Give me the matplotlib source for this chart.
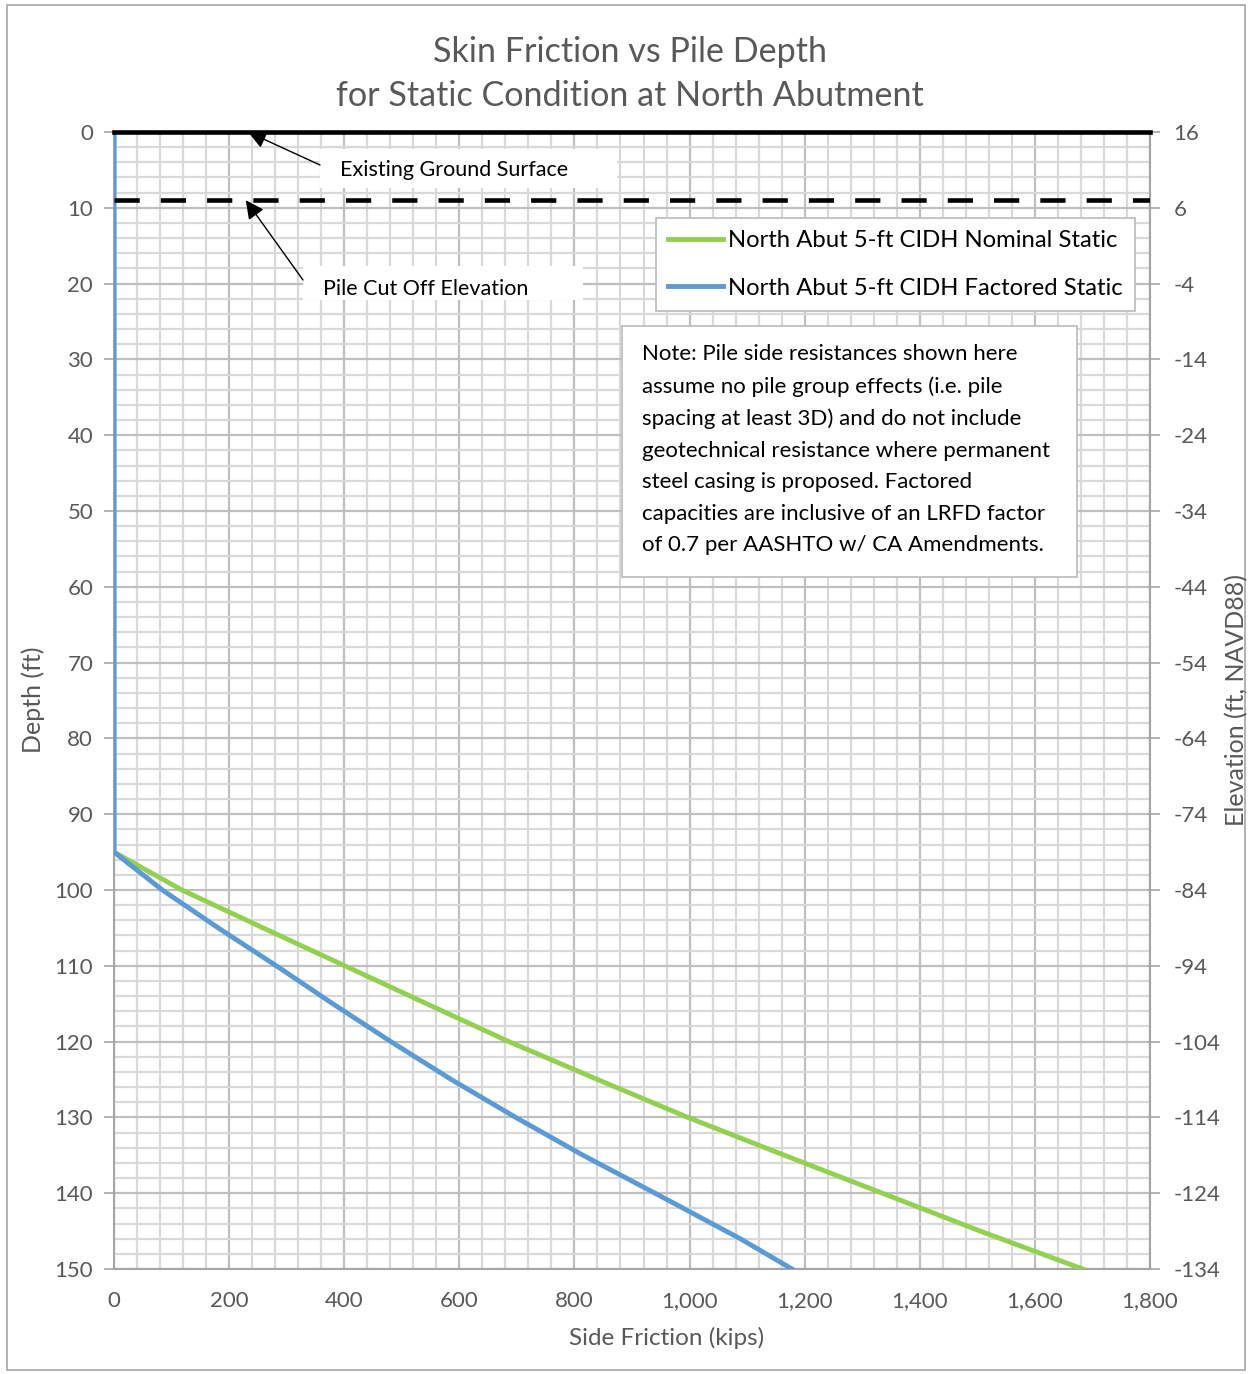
import matplotlib
matplotlib.use("Agg")
import matplotlib.pyplot as plt
from matplotlib.patches import Rectangle
from matplotlib.ticker import MultipleLocator, FuncFormatter

plt.rcParams['font.family'] = ['Lato', 'DejaVu Sans']
plt.rcParams['axes.unicode_minus'] = False

# ---- data ----
nominal_depth = [0, 95, 100, 105, 110, 115, 120, 125, 130, 135, 140, 145, 150]
nominal_friction = [0, 0, 118, 259, 401, 543, 686, 840, 997, 1165, 1335, 1505, 1683]
factored_depth = [0, 95, 100, 105, 110, 115, 120, 125, 130, 135, 140, 146, 150]
factored_friction = [0, 0, 84, 181, 282, 380, 481, 586, 698, 815, 940, 1088, 1178]

ground_depth = 0
cutoff_depth = 9
top_elevation = 16
elevation_ticks = list(range(16, -135, -10))

series_labels = ["North Abut 5-ft CIDH Nominal Static",
                 "North Abut 5-ft CIDH Factored Static"]
title_text = "Skin Friction vs Pile Depth\nfor Static Condition at North Abutment"
note_text = ("Note: Pile side resistances shown here\n"
             "assume no pile group effects (i.e. pile\n"
             "spacing at least 3D) and do not include\n"
             "geotechnical resistance where permanent\n"
             "steel casing is proposed. Factored\n"
             "capacities are inclusive of an LRFD factor\n"
             "of 0.7 per AASHTO w/ CA Amendments.")

W, H = 1253, 1374
AX_L, AX_R, AX_T, AX_B = 114, 1150, 132, 1269
fig = plt.figure(figsize=(W / 100, H / 100), dpi=100)
ax = fig.add_axes([AX_L / W, 1 - AX_B / H, (AX_R - AX_L) / W, (AX_B - AX_T) / H])


def fx(px):  # figure pixel -> axes fraction x
    return (px - AX_L) / (AX_R - AX_L)


def fy(py):  # figure pixel -> axes fraction y
    return 1 - (py - AX_T) / (AX_B - AX_T)


gray_text = '#595959'
green = '#92D050'
blue = '#5B9BD5'

# outer border
fig.patches.append(Rectangle((7 / W, 1 - 1370 / H), (1245 - 7) / W, (1370 - 5) / H,
                             transform=fig.transFigure, fill=False,
                             edgecolor='#A6A6A6', linewidth=1.2))

ax.set_xlim(0, 1800)
ax.set_ylim(150, 0)
ax.xaxis.set_major_locator(MultipleLocator(200))
ax.xaxis.set_minor_locator(MultipleLocator(40))
ax.yaxis.set_major_locator(MultipleLocator(10))
ax.yaxis.set_minor_locator(MultipleLocator(2))
ax.grid(which='minor', color='#D9D9D9', linewidth=1.6)
ax.grid(which='major', color='#BFBFBF', linewidth=1.6)
ax.set_axisbelow(True)
ax.xaxis.set_major_formatter(FuncFormatter(lambda v, p: f"{int(v):,}"))

for s in ['left', 'right', 'bottom']:
    ax.spines[s].set_color('#A6A6A6')
    ax.spines[s].set_linewidth(1.5)
ax.spines['top'].set_visible(False)

ax.tick_params(axis='x', which='both', length=0, labelsize=16, colors=gray_text, pad=16)
ax.tick_params(axis='y', which='major', length=7, width=1.2, color='#A6A6A6',
               labelsize=16, labelcolor=gray_text, pad=8)
ax.tick_params(axis='y', which='minor', length=0)

# secondary elevation axis
sec = ax.secondary_yaxis('right', functions=(lambda d: top_elevation - d,
                                             lambda e: top_elevation - e))
sec.set_yticks(elevation_ticks)
sec.spines['right'].set_color('#A6A6A6')
sec.spines['right'].set_linewidth(1.5)
sec.tick_params(axis='y', which='major', length=7, width=1.2, color='#A6A6A6',
                labelsize=16, labelcolor=gray_text, pad=10)
sec.tick_params(axis='y', which='minor', length=0)

# series
ax.plot(nominal_friction, nominal_depth, color=green, linewidth=3.5,
        label=series_labels[0], solid_joinstyle='round', zorder=3)
ax.plot(factored_friction, factored_depth, color=blue, linewidth=3.5,
        label=series_labels[1], solid_joinstyle='round', zorder=4)

# reference lines
ax.axhline(ground_depth, color='black', linewidth=3.3, zorder=5, clip_on=False)
ax.axhline(cutoff_depth, color='black', linewidth=3.3, dashes=(5.5, 4.6), zorder=5)


# annotation boxes (white, no border) with text and arrows
def callout(text, box, text_pos, tail, target_xy):
    x0, y0, x1, y1 = box
    ax.add_patch(Rectangle((fx(x0), fy(y1)), fx(x1) - fx(x0), fy(y0) - fy(y1),
                           transform=ax.transAxes, facecolor='white',
                           edgecolor='none', zorder=6))
    ax.text(fx(text_pos[0]), fy(text_pos[1]), text, transform=ax.transAxes,
            fontsize=15.5, color='black', ha='left', va='center', zorder=7)
    ax.annotate("", xy=target_xy, xycoords='data',
                xytext=(fx(tail[0]), fy(tail[1])), textcoords='axes fraction',
                arrowprops=dict(arrowstyle='-|>', color='black', lw=1.0,
                                mutation_scale=28, shrinkA=0, shrinkB=0),
                zorder=7)


callout("Existing Ground Surface", (320, 149, 617, 188), (340, 170), (320, 165),
        (233, ground_depth))
callout("Pile Cut Off Elevation", (303, 266, 583, 300), (323, 289), (303, 280),
        (229, cutoff_depth))

# legend
leg = ax.legend(loc='upper right', bbox_to_anchor=(fx(1135), fy(218)),
                fontsize=17.2, frameon=True, fancybox=False, edgecolor='#BFBFBF',
                framealpha=1, handlelength=2.3, handletextpad=0.2,
                labelspacing=1.1, borderpad=0.52, borderaxespad=0)
leg.get_frame().set_linewidth(1.3)
for h in leg.get_lines():
    h.set_linewidth(3.5)
leg.set_zorder(8)

# note box
ax.add_patch(Rectangle((fx(622), fy(577)), fx(1077) - fx(622), fy(326) - fy(577),
                       transform=ax.transAxes, facecolor='white',
                       edgecolor='#BFBFBF', linewidth=1.3, zorder=7))
ax.text(fx(642), fy(344), note_text, transform=ax.transAxes, fontsize=16,
        color='black', ha='left', va='top', linespacing=1.72, zorder=8)

# labels & title
fig.text(667 / W, 1 - 1338 / H, "Side Friction (kips)", ha='center', va='center',
         fontsize=17.5, color=gray_text)
fig.text(33 / W, 1 - 700 / H, "Depth (ft)", ha='center', va='center',
         rotation=90, fontsize=18, color=gray_text)
fig.text(1237 / W, 1 - 700 / H, "Elevation (ft, NAVD88)", ha='center', va='center',
         rotation=90, fontsize=18, color=gray_text)
fig.text(630 / W, 1 - 74 / H, title_text, ha='center', va='center',
         fontsize=24.6, color=gray_text, linespacing=1.45)

fig.savefig("out.png", dpi=100)
